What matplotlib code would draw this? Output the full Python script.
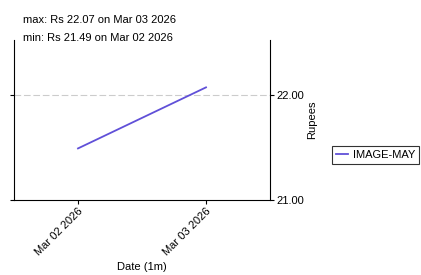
import matplotlib
matplotlib.use("Agg")
import matplotlib.pyplot as plt
import numpy as np

dates = ["Mar 02 2026", "Mar 03 2026"]
prices = [21.49, 22.07]
series_name = "IMAGE-MAY"
yticks = [21.0, 22.0]

plt.rcParams['font.family'] = ['Liberation Sans', 'DejaVu Sans']
FS = 8

fig = plt.figure(figsize=(4.21, 2.75), dpi=100)
ax = fig.add_axes([14/421, 1-200/275, (270-14)/421, (200-40)/275])

x = np.arange(len(dates))
line, = ax.plot(x, prices, color="#6050d8", lw=1.3, label=series_name)

ax.set_xlim(-0.5, len(dates) - 0.5)
ax.set_ylim(21.0, 22.52)
ax.set_xticks(x)
ax.set_xticklabels(dates, rotation=45, ha="right", rotation_mode="anchor", fontsize=FS)
ax.yaxis.set_label_position("right")
ax.set_yticks(yticks)
ax.set_yticklabels([f"{v:.2f}" for v in yticks], fontsize=FS)
ax.tick_params(axis="y", left=True, right=True, labelleft=False, labelright=True)
ax.tick_params(length=3, width=0.8, pad=1.5)
ax.spines["top"].set_visible(False)
for s in ["left", "right", "bottom"]:
    ax.spines[s].set_linewidth(0.8)
ax.axhline(22.0, color="#cccccc", lw=0.8, ls=(0, (6, 2.5)), zorder=0)

ax.set_xlabel("Date (1m)", fontsize=FS, labelpad=3)
ax.set_ylabel("Rupees", fontsize=FS, labelpad=2)

imax = int(np.argmax(prices)); imin = int(np.argmin(prices))
fig.text(23/421, 1-20/275, f"max: Rs {prices[imax]:.2f} on {dates[imax]}", fontsize=FS, va="center")
fig.text(23/421, 1-38/275, f"min: Rs {prices[imin]:.2f} on {dates[imin]}", fontsize=FS, va="center")

leg = fig.legend(handles=[line], loc="center left", bbox_to_anchor=(332/421, 1-155/275),
                 fontsize=FS, frameon=True, fancybox=False, handlelength=1.1,
                 handletextpad=0.45, borderpad=0.35, borderaxespad=0)
leg.get_frame().set_edgecolor("black")
leg.get_frame().set_linewidth(0.8)

fig.savefig("out.png", dpi=100)
